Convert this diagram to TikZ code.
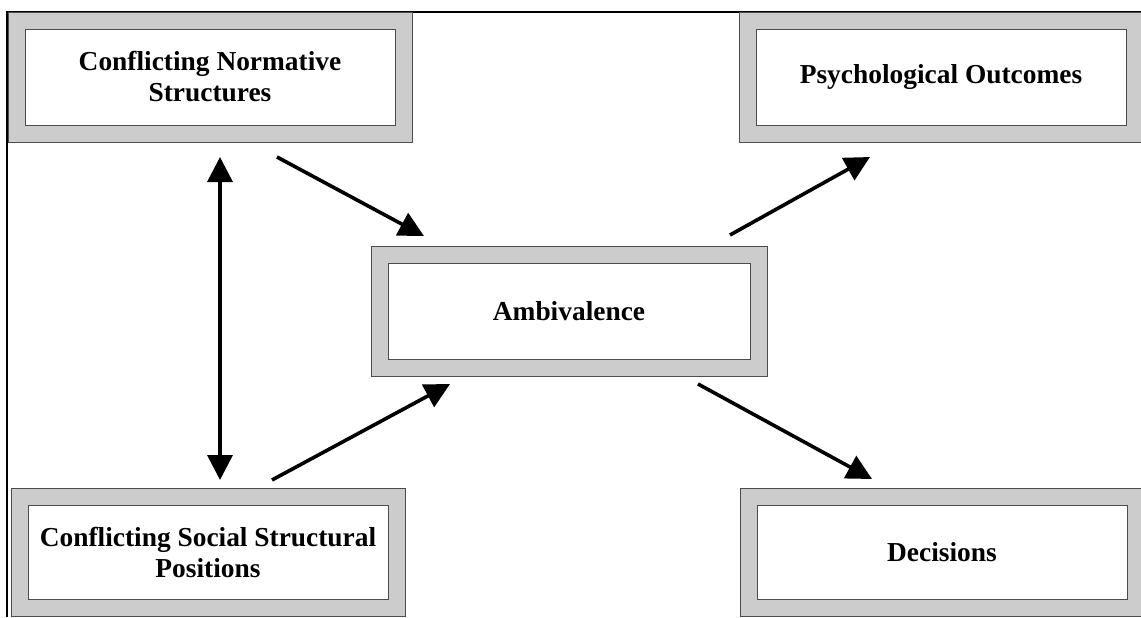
\documentclass[tikz,border=0pt]{standalone}
\usepackage{fontspec}
\setmainfont{Liberation Serif}
\usetikzlibrary{arrows.meta}

\begin{document}
\begin{tikzpicture}[x=0.5pt,y=-0.5pt,
  stage/.style={draw=black!70,line width=0.5pt,double=black!20,double distance=8pt,
    fill=white,minimum width=193.5pt,minimum height=56.5pt,align=center,
    font=\fontsize{13.7}{15.5}\selectfont\bfseries},
  link/.style={line width=1.8pt,-{Triangle[length=12.5pt,width=12.5pt]}},
  both/.style={line width=1.8pt,{Triangle[length=12.5pt,width=12.5pt]}-{Triangle[length=12.5pt,width=12.5pt]}}]
\useasboundingbox (0,0) rectangle (1141,617);
\clip (0,0) rectangle (1141,617);
% page frame
\draw[line width=1pt] (7,617) -- (7,12) -- (1141,12);
% boxes
\node[stage] (norm) at (210,77) {Conflicting Normative\\Structures};
\node[stage] (psych) at (941,77) {Psychological Outcomes};
\node[stage,minimum width=189.5pt] (amb) at (569,311) {Ambivalence};
\node[stage,minimum width=188.5pt,minimum height=55.5pt] (social) at (208,552) {Conflicting Social Structural\\Positions};
\node[stage,minimum height=55.5pt] (dec) at (942,552) {Decisions};
% arrow ends
\coordinate (p1) at (220,157);
\coordinate (p2) at (220,480);
\coordinate (n1) at (277,157);
\coordinate (n2) at (424,236);
\coordinate (s1) at (272,480);
\coordinate (s2) at (450,384);
\coordinate (a1) at (730,235);
\coordinate (a2) at (870,157);
\coordinate (a3) at (698,384);
\coordinate (a4) at (872,479);
% arrows
\draw[both] (p1) -- (p2);
\draw[link] (n1) -- (n2);
\draw[link] (s1) -- (s2);
\draw[link] (a1) -- (a2);
\draw[link] (a3) -- (a4);
\end{tikzpicture}
\end{document}
